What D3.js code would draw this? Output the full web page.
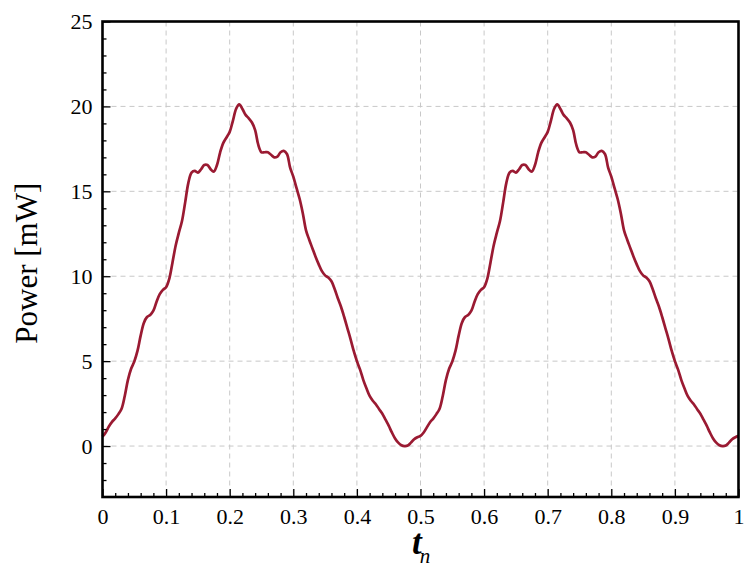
<!DOCTYPE html>
<html>
<head>
<meta charset="utf-8">
<script src="https://cdn.jsdelivr.net/npm/d3@7"></script>
<style>
  html, body { margin: 0; padding: 0; background: #fff; }
  svg { display: block; }
  text { font-family: "Liberation Serif", "Times New Roman", serif; fill: #000; }
</style>
</head>
<body>
<svg id="chart" width="745" height="568"></svg>
<script>
// Normalised time samples (one point every 0.005)
const tn = [
  0.000,0.005,0.010,0.015,0.020,0.025,0.030,0.035,0.040,0.045,
  0.050,0.055,0.060,0.065,0.070,0.075,0.080,0.085,0.090,0.095,
  0.100,0.105,0.110,0.115,0.120,0.125,0.130,0.135,0.140,0.145,
  0.150,0.155,0.160,0.165,0.170,0.175,0.180,0.185,0.190,0.195,
  0.200,0.205,0.210,0.215,0.220,0.225,0.230,0.235,0.240,0.245,
  0.250,0.255,0.260,0.265,0.270,0.275,0.280,0.285,0.290,0.295,
  0.300,0.305,0.310,0.315,0.320,0.325,0.330,0.335,0.340,0.345,
  0.350,0.355,0.360,0.365,0.370,0.375,0.380,0.385,0.390,0.395,
  0.400,0.405,0.410,0.415,0.420,0.425,0.430,0.435,0.440,0.445,
  0.450,0.455,0.460,0.465,0.470,0.475,0.480,0.485,0.490,0.495,
  0.500,0.505,0.510,0.515,0.520,0.525,0.530,0.535,0.540,0.545,
  0.550,0.555,0.560,0.565,0.570,0.575,0.580,0.585,0.590,0.595,
  0.600,0.605,0.610,0.615,0.620,0.625,0.630,0.635,0.640,0.645,
  0.650,0.655,0.660,0.665,0.670,0.675,0.680,0.685,0.690,0.695,
  0.700,0.705,0.710,0.715,0.720,0.725,0.730,0.735,0.740,0.745,
  0.750,0.755,0.760,0.765,0.770,0.775,0.780,0.785,0.790,0.795,
  0.800,0.805,0.810,0.815,0.820,0.825,0.830,0.835,0.840,0.845,
  0.850,0.855,0.860,0.865,0.870,0.875,0.880,0.885,0.890,0.895,
  0.900,0.905,0.910,0.915,0.920,0.925,0.930,0.935,0.940,0.945,
  0.950,0.955,0.960,0.965,0.970,0.975,0.980,0.985,0.990,0.995,
  1.000
];

// Power in mW at each sample
const power = [
  0.55,0.80,1.15,1.42,1.63,1.88,2.20,2.95,3.90,4.55,
  4.98,5.60,6.50,7.25,7.60,7.72,7.97,8.50,8.95,9.20,
  9.35,9.85,10.80,11.80,12.55,13.25,14.35,15.50,16.10,16.20,
  16.10,16.30,16.55,16.55,16.30,16.16,16.55,17.30,17.85,18.17,
  18.50,19.15,19.85,20.12,19.85,19.50,19.30,19.05,18.60,17.73,
  17.30,17.30,17.30,17.15,17.00,17.05,17.30,17.38,17.20,16.40,
  15.86,15.20,14.55,13.70,12.70,12.15,11.65,11.15,10.70,10.30,
  10.05,9.92,9.70,9.25,8.70,8.20,7.60,6.95,6.30,5.60,
  5.00,4.50,3.90,3.40,2.95,2.67,2.45,2.17,1.90,1.55,
  1.20,0.80,0.45,0.20,0.05,0.00,0.03,0.20,0.40,0.52,
  0.60,0.80,1.10,1.40,1.62,1.88,2.20,2.95,3.90,4.55,
  4.98,5.60,6.50,7.25,7.60,7.72,7.97,8.50,8.95,9.20,
  9.35,9.85,10.80,11.80,12.55,13.25,14.35,15.50,16.10,16.20,
  16.10,16.30,16.55,16.55,16.30,16.16,16.55,17.30,17.85,18.17,
  18.50,19.15,19.85,20.12,19.85,19.50,19.30,19.05,18.60,17.73,
  17.30,17.30,17.30,17.15,17.00,17.05,17.30,17.38,17.20,16.40,
  15.86,15.20,14.55,13.70,12.70,12.15,11.65,11.15,10.70,10.30,
  10.05,9.92,9.70,9.25,8.70,8.20,7.60,6.95,6.30,5.60,
  5.00,4.50,3.90,3.40,2.95,2.67,2.45,2.17,1.90,1.55,
  1.20,0.80,0.45,0.20,0.05,0.00,0.03,0.20,0.40,0.52,
  0.60
];

// Tick values and labels
const xMajorTicks = [0, 0.1, 0.2, 0.3, 0.4, 0.5, 0.6, 0.7, 0.8, 0.9, 1];
const xTickLabels = ["0", "0.1", "0.2", "0.3", "0.4", "0.5", "0.6", "0.7", "0.8", "0.9", "1"];
const yMajorTicks = [0, 5, 10, 15, 20, 25];
const yTickLabels = ["0", "5", "10", "15", "20", "25"];
const xDomain = [0, 1];
const yDomain = [-3, 25];

const svg = d3.select("#chart");
const plotLeft = 102.5, plotRight = 738.5, plotTop = 21.5, plotBottom = 497;
const serif = "'Liberation Serif', 'Times New Roman', serif";

const x = d3.scaleLinear().domain(xDomain).range([plotLeft, plotRight]);
const y = d3.scaleLinear().domain(yDomain).range([plotBottom, plotTop]);

// Dashed grid at major ticks
const grid = svg.append("g").attr("stroke", "#c8c8c8").attr("stroke-width", 1)
  .attr("stroke-dasharray", "5,4").attr("fill", "none");
xMajorTicks.slice(1, -1).forEach(v => {
  grid.append("line").attr("x1", x(v)).attr("x2", x(v)).attr("y1", plotTop).attr("y2", plotBottom);
});
yMajorTicks.forEach(v => {
  grid.append("line").attr("x1", plotLeft).attr("x2", plotRight).attr("y1", y(v)).attr("y2", y(v));
});

// Power curve
const line = d3.line()
  .x((d, i) => x(tn[i]))
  .y(d => y(d))
  .curve(d3.curveCatmullRom.alpha(0.5));

svg.append("path")
  .datum(power)
  .attr("d", line)
  .attr("fill", "none")
  .attr("stroke", "#9a1a32")
  .attr("stroke-width", 2.7)
  .attr("stroke-linejoin", "round");

// Inward ticks on the bottom axis
const xAxis = d3.axisBottom(x)
  .tickValues(xMajorTicks)
  .tickSize(-8)
  .tickFormat((d, i) => xTickLabels[i]);
const xMinor = d3.axisBottom(x)
  .tickValues(d3.range(0, 50).map(i => i * 0.02).filter(v => Math.abs(v * 10 - Math.round(v * 10)) > 1e-6))
  .tickSize(-4)
  .tickFormat("");

const gxMinor = svg.append("g").attr("transform", `translate(0,${plotBottom})`).call(xMinor);
const gx = svg.append("g").attr("transform", `translate(0,${plotBottom})`).call(xAxis);

// Inward ticks on the left axis
const yAxis = d3.axisLeft(y)
  .tickValues(yMajorTicks)
  .tickSize(-8)
  .tickFormat((d, i) => yTickLabels[i]);
const yMinor = d3.axisLeft(y)
  .tickValues(d3.range(-2, 25).filter(v => v % 5 !== 0))
  .tickSize(-4)
  .tickFormat("");

const gyMinor = svg.append("g").attr("transform", `translate(${plotLeft},0)`).call(yMinor);
const gy = svg.append("g").attr("transform", `translate(${plotLeft},0)`).call(yAxis);

[gx, gxMinor, gy, gyMinor].forEach(g => {
  g.attr("font-family", serif).attr("font-size", 22);
  g.select(".domain").remove();
  g.selectAll(".tick line").attr("stroke", "#000").attr("stroke-width", 1.3);
});

gx.selectAll(".tick text")
  .attr("y", 0).attr("dy", null)
  .attr("transform", "translate(0,27)")
  .attr("fill", "#000");

gy.selectAll(".tick text")
  .attr("x", -10).attr("dy", "0.34em")
  .attr("fill", "#000");

// Frame
svg.append("rect")
  .attr("x", plotLeft).attr("y", plotTop)
  .attr("width", plotRight - plotLeft).attr("height", plotBottom - plotTop)
  .attr("fill", "none").attr("stroke", "#000").attr("stroke-width", 2.6);

// Axis titles
svg.append("text")
  .attr("transform", `translate(37,${(plotTop + plotBottom) / 2 + 4}) rotate(-90)`)
  .attr("text-anchor", "middle")
  .attr("font-family", serif)
  .attr("font-size", 31)
  .text("Power [mW]");

const xt = svg.append("text")
  .attr("x", 412).attr("y", 554)
  .attr("font-family", serif);
xt.append("tspan")
  .attr("font-size", 35).attr("font-style", "italic").attr("font-weight", "bold")
  .text("t");
xt.append("tspan")
  .attr("dy", 9).attr("dx", -2)
  .attr("font-size", 21).attr("font-style", "italic")
  .text("n");
</script>
</body>
</html>
